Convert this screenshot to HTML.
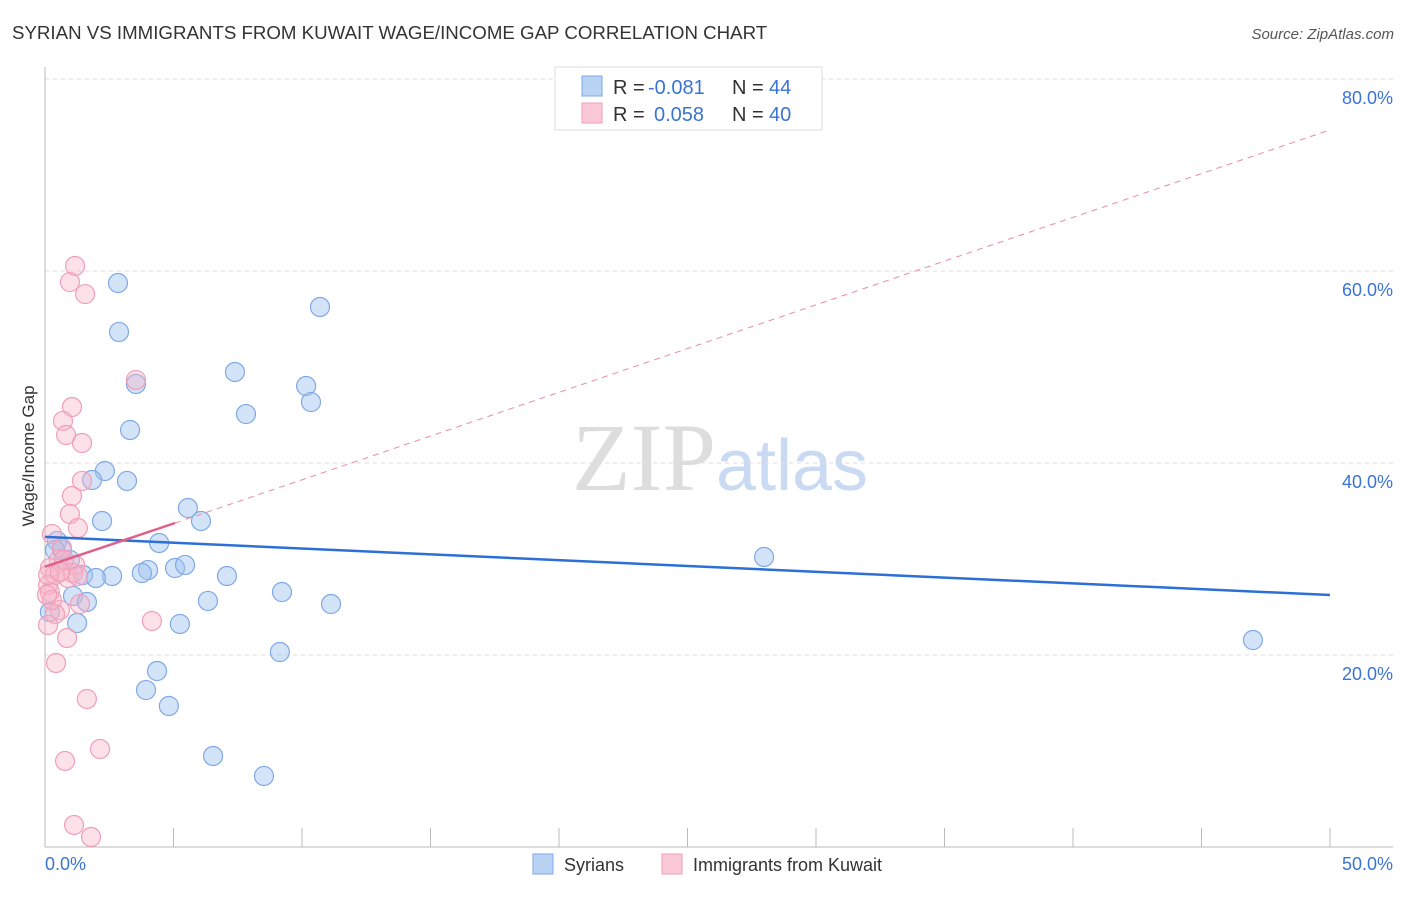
<!DOCTYPE html>
<html><head><meta charset="utf-8"><style>
body{margin:0;background:#fff;font-family:"Liberation Sans",sans-serif;}
svg text{font-family:"Liberation Sans",sans-serif;}
</style></head><body>
<svg id="chart" width="1406" height="892" xmlns="http://www.w3.org/2000/svg">
<text x="12" y="39" font-size="18.7" fill="#333">SYRIAN VS IMMIGRANTS FROM KUWAIT WAGE/INCOME GAP CORRELATION CHART</text>
<text x="1394" y="39" font-size="15" fill="#555" font-style="italic" text-anchor="end">Source: ZipAtlas.com</text>
<text x="720" y="490" font-size="96" text-anchor="middle"><tspan fill="#ddd" font-family="Liberation Serif">ZIP</tspan><tspan fill="#c9daf2" font-size="72">atlas</tspan></text>
<text transform="translate(34,456) rotate(-90)" font-size="17" fill="#333" text-anchor="middle">Wage/Income Gap</text>
<g id="grid"></g><g id="pts"></g><g id="lines"></g>
<g>
<rect x="555" y="67" width="267" height="63" fill="#fff" stroke="#ddd"/>
<rect x="582" y="76" width="20" height="20" fill="#b9d3f5" stroke="#7fa8e6"/>
<rect x="582" y="103" width="20" height="20" fill="#fbc8d7" stroke="#ef9fb8"/>
<text x="613" y="94" font-size="20" fill="#333">R =</text>
<text x="648" y="94" font-size="20" fill="#3a74d4">-0.081</text>
<text x="732" y="94" font-size="20" fill="#333">N =</text>
<text x="769" y="94" font-size="20" fill="#3a74d4">44</text>
<text x="613" y="121" font-size="20" fill="#333">R =</text>
<text x="654" y="121" font-size="20" fill="#3a74d4">0.058</text>
<text x="732" y="121" font-size="20" fill="#333">N =</text>
<text x="769" y="121" font-size="20" fill="#3a74d4">40</text>
</g>
<g>
<rect x="533" y="854" width="20" height="20" fill="#b9d3f5" stroke="#7fa8e6"/>
<text x="564" y="871" font-size="18" fill="#333">Syrians</text>
<rect x="662" y="854" width="20" height="20" fill="#fbc8d7" stroke="#ef9fb8"/>
<text x="693" y="871" font-size="18" fill="#333">Immigrants from Kuwait</text>
</g>
</svg>
<script>
const yTicks=[20,40,60,80];
const yTickLabels=["20.0%","40.0%","60.0%","80.0%"];
const xTickLabels=["0.0%","50.0%"];
const bluePx=[[118,283],[320,307],[119,332],[136,384],[235,372],[306,386],[311,402],[246,414],[130,430],[105,471],[92,480],[127,481],[102,521],[188,508],[201,521],[159,543],[62,550],[57,541],[148,570],[142,573],[112,576],[83,575],[96,578],[175,568],[185,565],[227,576],[73,596],[87,602],[208,601],[282,592],[331,604],[77,623],[180,624],[280,652],[157,671],[146,690],[169,706],[213,756],[264,776],[764,557],[1253,640],[50,612],[55,550],[70,560]];
const pinkPx=[[75,266],[70,282],[85,294],[136,380],[72,407],[63,421],[66,435],[82,443],[82,481],[72,496],[70,514],[78,528],[52,534],[59,560],[50,568],[55,575],[68,578],[75,565],[48,585],[50,592],[80,604],[60,610],[55,614],[48,625],[67,638],[56,663],[87,699],[100,749],[65,761],[152,621],[74,825],[91,837],[48,575],[62,548],[73,573],[78,576],[64,560],[52,600],[47,595],[60,572]];
const syrianX=bluePx.map(p=>+((p[0]-45)/25.7).toFixed(2));
const syrianY=bluePx.map(p=>+((847-p[1])/9.6).toFixed(2));
const kuwaitX=pinkPx.map(p=>+((p[0]-45)/25.7).toFixed(2));
const kuwaitY=pinkPx.map(p=>+((847-p[1])/9.6).toFixed(2));
const blueTrend=[[0,32.3],[50,26.25]];
const pinkTrend=[[0,29.2],[5.06,33.75]];
const pinkDash=[[5.06,33.75],[50,74.7]];
const sx=v=>45+v*25.7, sy=v=>847-v*9.6;
const NS="http://www.w3.org/2000/svg";
function mk(tag,attrs,parent){const e=document.createElementNS(NS,tag);for(const k in attrs)e.setAttribute(k,attrs[k]);parent.appendChild(e);return e;}
const grid=document.getElementById('grid');
yTicks.forEach((t,i)=>{
 const l=mk('line',{x1:45,x2:1393,y1:sy(t),y2:sy(t),stroke:'#ddd','stroke-dasharray':'4,4'},grid);
 
 
 const tx=mk('text',{x:1393,y:sy(t)+25,'font-size':18,fill:'#3a74d4','text-anchor':'end'},grid);
 tx.textContent=yTickLabels[i];
 
 
});
const ax=mk('line',{x1:45,x2:45,y1:67,y2:847,stroke:'#bbb'},grid);


const bx=mk('line',{x1:45,x2:1393,y1:847,y2:847,stroke:'#bbb'},grid);


for(let i=1;i<=10;i++){const t=mk('line',{x1:sx(i*5),x2:sx(i*5),y1:828,y2:847,stroke:'#bbb'},grid);
 
 }
[[0,'start',45],[1,'end',1393]].forEach(([i,a,x])=>{const t=mk('text',{x:x,y:870,'font-size':18,fill:'#3a74d4','text-anchor':a},grid);t.textContent=xTickLabels[i];
 
 });
const pts=document.getElementById('pts');
syrianX.forEach((x,i)=>{const c=mk('circle',{cx:sx(x),cy:sy(syrianY[i]),r:9.5,fill:'rgba(160,196,240,0.45)',stroke:'#7fa8e6','stroke-width':1.2},pts);
 
 });
kuwaitX.forEach((x,i)=>{const c=mk('circle',{cx:sx(x),cy:sy(kuwaitY[i]),r:9.5,fill:'rgba(248,180,200,0.4)',stroke:'#ef9fb8','stroke-width':1.2},pts);
 
 });
const lines=document.getElementById('lines');
function ln(d,attrs,name){const e=mk('line',Object.assign({x1:sx(d[0][0]),y1:sy(d[0][1]),x2:sx(d[1][0]),y2:sy(d[1][1])},attrs),lines);
 
 }
ln(pinkDash,{stroke:'#e88aa8','stroke-width':1,'stroke-dasharray':'6,5'},'kuwait-trend-extension');
ln(blueTrend,{stroke:'#2c6fd6','stroke-width':2.5},'syrian-trend-line');
ln(pinkTrend,{stroke:'#e0608a','stroke-width':2.5},'kuwait-trend-line');
</script>
</body></html>
